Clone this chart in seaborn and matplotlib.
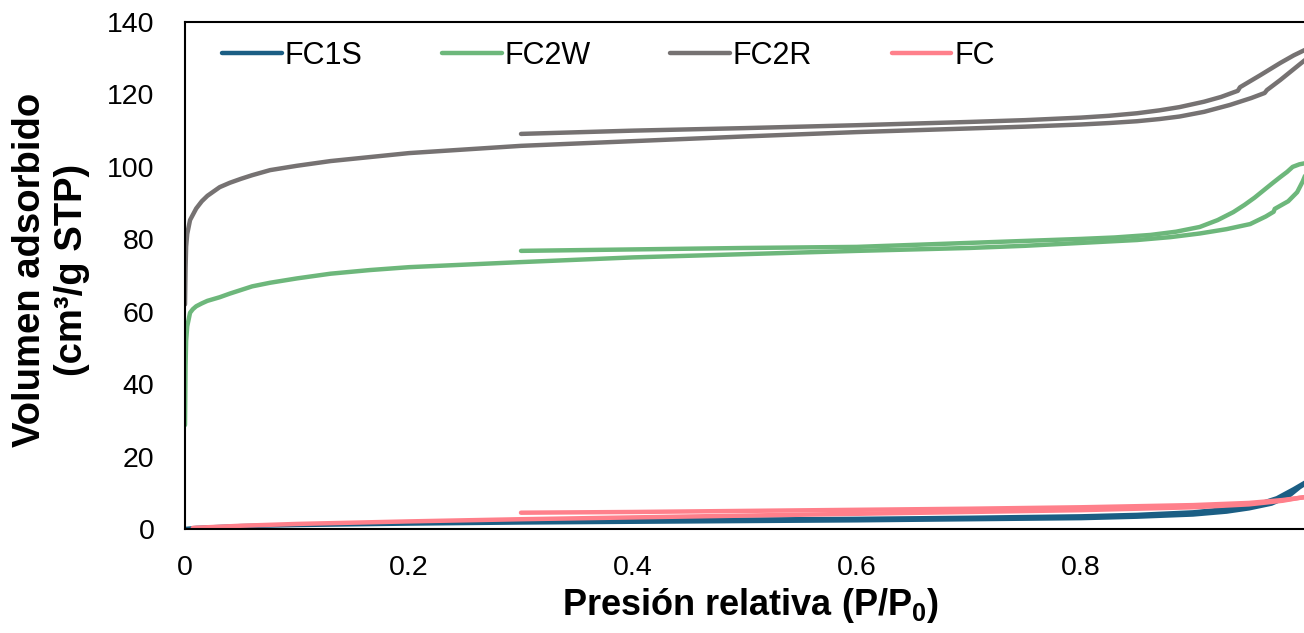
import matplotlib
matplotlib.use("Agg")
import matplotlib.pyplot as plt
import seaborn as sns

# %% DATA (read off the reference isotherms)
# FC1S
fc1s_ads_p = [0, 0.01, 0.05, 0.1, 0.2, 0.3, 0.4, 0.5, 0.6, 0.7, 0.8, 0.85, 0.9, 0.93, 0.95, 0.97, 0.985, 0.995, 1.0]
fc1s_ads_v = [0, 0.3, 0.8, 1.1, 1.5, 1.8, 2.0, 2.2, 2.4, 2.7, 3.0, 3.4, 4.0, 4.8, 5.7, 7.0, 9.0, 11.5, 12.5]
fc1s_des_p = [1.0, 0.99, 0.975, 0.96, 0.94, 0.9, 0.85, 0.8, 0.7, 0.6, 0.5, 0.4, 0.3]
fc1s_des_v = [12.8, 11.0, 8.5, 7.0, 5.8, 4.6, 3.9, 3.5, 3.1, 2.8, 2.6, 2.4, 2.3]

# FC2W
fc2w_ads_p = [0, 0.0005, 0.001, 0.002, 0.0045, 0.007, 0.01, 0.015, 0.02, 0.031, 0.04, 0.05, 0.06, 0.076, 0.1,
              0.13, 0.165, 0.2, 0.3, 0.4, 0.5, 0.6, 0.7, 0.75, 0.8, 0.85, 0.88, 0.906, 0.93, 0.951, 0.965,
              0.972, 0.973, 0.985, 0.993, 0.998, 1.0]
fc2w_ads_v = [28.7, 45, 52, 56, 59.7, 60.7, 61.5, 62.3, 63, 64, 65, 66, 67, 68, 69.2,
              70.5, 71.5, 72.3, 73.7, 75.0, 75.9, 76.8, 77.6, 78.2, 79.0, 79.8, 80.6, 81.6, 82.8, 84.2, 86.3,
              87.6, 88.4, 90.5, 93.0, 96.0, 97.5]
fc2w_des_p = [1.0, 0.995, 0.989, 0.984, 0.978, 0.971, 0.963, 0.955, 0.946, 0.936, 0.922, 0.906, 0.885, 0.862,
              0.83, 0.8, 0.7, 0.6, 0.5, 0.4, 0.3]
fc2w_des_v = [101.0, 100.7, 100.0, 98.6, 97.2, 95.5, 93.5, 91.5, 89.5, 87.5, 85.3, 83.4, 82.1, 81.2,
              80.5, 80.1, 79.0, 77.9, 77.6, 77.2, 76.8]

# FC2R
fc2r_ads_p = [0, 0.0005, 0.001, 0.002, 0.0045, 0.01, 0.015, 0.02, 0.031, 0.04, 0.05, 0.06, 0.076, 0.1, 0.13,
              0.165, 0.2, 0.3, 0.4, 0.5, 0.6, 0.7, 0.75, 0.8, 0.825, 0.85, 0.87, 0.888, 0.91, 0.933, 0.952,
              0.964, 0.966, 0.978, 0.99, 1.0]
fc2r_ads_v = [62, 72, 78, 81.5, 85.3, 88.5, 90.5, 92, 94.4, 95.6, 96.7, 97.7, 99.1, 100.3, 101.6,
              102.7, 103.8, 105.8, 107.1, 108.4, 109.6, 110.6, 111.1, 111.7, 112.1, 112.6, 113.2, 113.9, 115.2,
              117.1, 119.0, 120.4, 121.2, 124.0, 127.0, 129.5]
fc2r_des_p = [1.0, 0.99, 0.978, 0.96, 0.942, 0.940, 0.925, 0.91, 0.888, 0.87, 0.85, 0.825, 0.8, 0.75, 0.7,
              0.6, 0.5, 0.4, 0.3]
fc2r_des_v = [132.3, 130.8, 128.7, 125.3, 122.0, 121.0, 119.3, 118.0, 116.5, 115.6, 114.8, 114.1, 113.6,
              112.9, 112.4, 111.5, 110.7, 110.0, 109.1]

# FC
fc_ads_p = [0.007, 0.05, 0.1, 0.2, 0.3, 0.4, 0.5, 0.6, 0.7, 0.8, 0.9, 0.95, 0.98, 0.995, 1.0]
fc_ads_v = [0.3, 0.9, 1.4, 2.1, 2.7, 3.2, 3.7, 4.2, 4.7, 5.2, 6.0, 6.8, 7.8, 8.6, 8.8]
fc_des_p = [1.0, 0.98, 0.95, 0.9, 0.8, 0.7, 0.6, 0.5, 0.4, 0.3]
fc_des_v = [8.8, 8.0, 7.2, 6.6, 6.0, 5.6, 5.3, 5.0, 4.7, 4.5]

samples = ["FC1S", "FC2W", "FC2R", "FC"]
colors = ["#1b5e84", "#6db77b", "#767272", "#ff808b"]
branches = [
    (fc1s_ads_p, fc1s_ads_v, fc1s_des_p, fc1s_des_v),
    (fc2w_ads_p, fc2w_ads_v, fc2w_des_p, fc2w_des_v),
    (fc2r_ads_p, fc2r_ads_v, fc2r_des_p, fc2r_des_v),
    (fc_ads_p, fc_ads_v, fc_des_p, fc_des_v),
]

# %% VISUALISE
sns.set_style("white")
plt.rcParams["font.family"] = ["Liberation Sans", "DejaVu Sans"]
plt.rcParams["mathtext.fontset"] = "custom"
plt.rcParams["mathtext.rm"] = "Liberation Sans"
plt.rcParams["mathtext.bf"] = "Liberation Sans:bold"
plt.rcParams["text.color"] = "black"
plt.rcParams["axes.labelcolor"] = "black"

fig = plt.figure(figsize=(13.04, 6.33), dpi=100)
ax = fig.add_axes([185 / 1304, 104 / 633, 1120 / 1304, 507 / 633])

# Adsorption branch carries the label, desorption branch drawn after it
for name, color, (ap, av, dp, dv) in zip(samples, colors, branches):
    sns.lineplot(x=ap, y=av, sort=False, color=color, lw=3.2, label=name, ax=ax)
    sns.lineplot(x=dp, y=dv, sort=False, color=color, lw=3.2, ax=ax)

ax.set_xlim(0, 1.0)
ax.set_ylim(0, 140)
ax.set_xticks([0, 0.2, 0.4, 0.6, 0.8])
ax.set_xticklabels(["0", "0.2", "0.4", "0.6", "0.8"])
ax.set_yticks(range(0, 141, 20))

# Axes frame: left, bottom and top, ticks pointing inwards
for side in ["left", "bottom", "top"]:
    ax.spines[side].set_color("black")
    ax.spines[side].set_linewidth(1.5)
ax.spines["right"].set_visible(False)
ax.tick_params(axis="both", direction="in", length=7, width=1.5, labelsize=20.5,
               colors="black", labelcolor="black")
ax.tick_params(axis="y", pad=22)
ax.tick_params(axis="x", pad=19)

ax.set_xlabel(r"Presión relativa (P/P$_{\mathbf{0}}$)", fontsize=26, fontweight="bold", color="black")
ax.set_ylabel("Volumen adsorbido\n(cm³/g STP)", fontsize=27.5, fontweight="bold", linespacing=1.2,
              color="black")
ax.xaxis.set_label_coords(0.505, -0.112)
ax.yaxis.set_label_coords(-0.085, 0.511)

leg = ax.legend(loc="upper left", bbox_to_anchor=(0.033, 0.963), ncol=4, frameon=False,
                fontsize=22, handlelength=1.95, handletextpad=0.1, columnspacing=2.6,
                borderaxespad=0, borderpad=0)
for t in leg.get_texts():
    t.set_color("black")

fig.savefig("out.png", dpi=100)
